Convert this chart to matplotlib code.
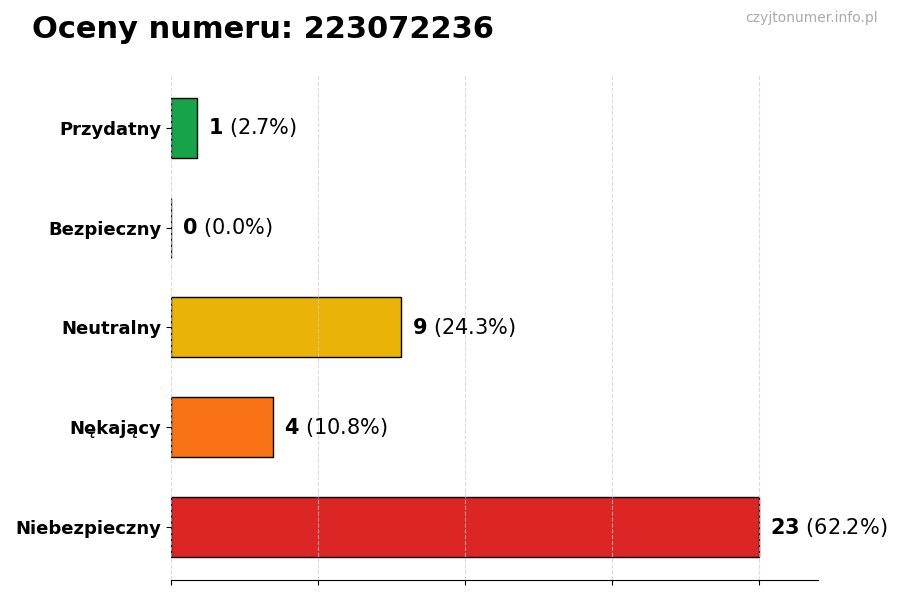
import matplotlib.pyplot as plt
import numpy as np

categories = ['Przydatny', 'Bezpieczny', 'Neutralny', 'Nękający', 'Niebezpieczny']
counts = [1, 0, 9, 4, 23]
percents = [2.7, 0.0, 24.3, 10.8, 62.2]
colors = ['#16a34a', '#9ca3af', '#eab308', '#f97316', '#dc2626']
number = '223072236'

plt.rcParams['font.family'] = ['DejaVu Sans']
plt.rcParams['mathtext.fontset'] = 'dejavusans'

fig = plt.figure(figsize=(9, 6), dpi=100)
ax = fig.add_axes([0.19, 0.0333, 0.719, 0.842])

y = np.arange(len(categories))
ax.barh(y, counts, height=0.6, color=colors, edgecolor='black', linewidth=1)
ax.invert_yaxis()
ax.set_xlim(0, max(counts) * 1.1)
ax.set_yticks(y)
ax.set_yticklabels(categories, fontsize=13, fontweight='bold')
ax.set_xticks(np.linspace(0, max(counts), 5))
ax.set_xticklabels([])
ax.grid(axis='x', linestyle='--', color='#cccccc', linewidth=0.8, alpha=0.7)
ax.set_axisbelow(False)
for s in ['top', 'right', 'left']:
    ax.spines[s].set_visible(False)

for yi, c, p in zip(y, counts, percents):
    ax.annotate(r'$\bf{%d}$ (%.1f%%)' % (c, p), xy=(c, yi), xytext=(8, 0),
                textcoords='offset points', va='center', ha='left', fontsize=15)

fig.text(0.035, 0.95, f'Oceny numeru: {number}', fontsize=22, fontweight='bold',
         ha='left', va='center')
fig.text(0.975, 0.97, 'czyjtonumer.info.pl', fontsize=10, color='#aaaaaa',
         ha='right', va='center')

fig.savefig('out.png', dpi=100)
